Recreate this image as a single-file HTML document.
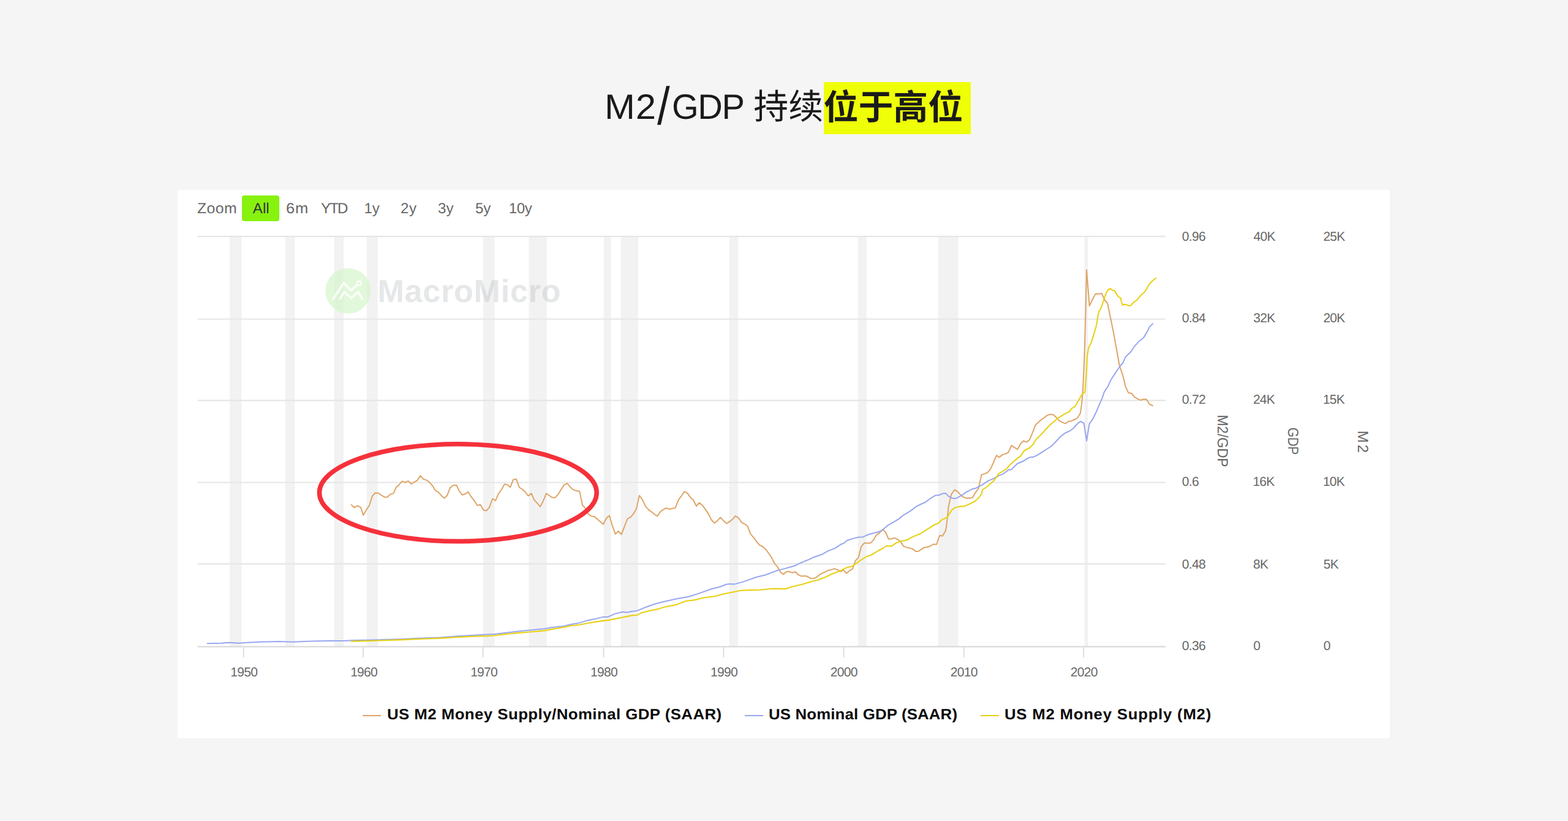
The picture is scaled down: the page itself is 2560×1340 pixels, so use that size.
<!DOCTYPE html>
<html lang="zh">
<head>
<meta charset="utf-8">
<title>M2/GDP</title>
<style>
html,body{margin:0;padding:0;}
body{width:2560px;height:1340px;overflow:hidden;background:#f5f5f5;position:relative;font-family:"Liberation Sans",sans-serif;text-rendering:geometricPrecision;}
.abs{position:absolute;white-space:nowrap;line-height:1;}
.hl{position:absolute;left:1345.3px;top:134.3px;width:240.2px;height:84.6px;background:#efff08;}
.tsvg{position:absolute;left:0;top:0;}
.tl{color:#1a1a1a;}
.panel{position:absolute;left:289.9px;top:310.4px;width:1979.4px;height:894.5px;background:#ffffff;}
.chart{position:absolute;left:0;top:0;}
.zl,.zb{color:#666666;}
.zb.on{color:#333333;}
.btnbg{position:absolute;left:395px;top:319px;width:60.8px;height:41.6px;background:#87f20e;border-radius:4px;}
.lg{font-weight:700;color:#0a0a0a;}
.ln{position:absolute;top:1167px;height:2px;width:30.4px;}
</style>
</head>
<body>
<div class="hl"></div>
<div class="abs tl" style="left:987.19px;top:147.23px;font-size:57.5px;letter-spacing:0.81px;transform:scaleX(1.04);transform-origin:0 0;">M2</div>
<div class="abs tl" style="left:1073.10px;top:131.09px;font-size:86.53px;transform:scaleX(0.858);transform-origin:0 0;">/</div>
<div class="abs tl" style="left:1096.78px;top:147.23px;font-size:57.5px;letter-spacing:-1.31px;transform:scaleX(0.975);transform-origin:0 0;">GDP</div>
<svg class="tsvg" width="2560" height="260" viewBox="0 0 2560 260"><text x="1230.31" y="194.40" font-family='"Liberation Sans","Noto Sans CJK SC",sans-serif' font-size="56.9" fill="#1a1a1a">持续</text><text x="1344.49" y="194.70" font-family='"Liberation Sans","Noto Sans CJK SC",sans-serif' font-size="56.9" font-weight="700" fill="#1a1a1a">位于高位</text></svg>
<div class="panel"></div>
<svg class="chart" width="2560" height="1340" viewBox="0 0 2560 1340">
<g fill="#f2f2f2">
<rect x="375.0" y="386" width="19.4" height="669"/>
<rect x="466.0" y="386" width="15.3" height="669"/>
<rect x="545.6" y="386" width="15.4" height="669"/>
<rect x="598.7" y="386" width="17.9" height="669"/>
<rect x="788.7" y="386" width="18.8" height="669"/>
<rect x="863.5" y="386" width="29.3" height="669"/>
<rect x="985.6" y="386" width="11.9" height="669"/>
<rect x="1013.5" y="386" width="28.4" height="669"/>
<rect x="1190.6" y="386" width="14.7" height="669"/>
<rect x="1400.6" y="386" width="14.0" height="669"/>
<rect x="1531.9" y="386" width="32.8" height="669"/>
<rect x="1770.6" y="386" width="5.7" height="669"/>
</g>
<g stroke="#e6e6e6" stroke-width="2.1" fill="none">
<path d="M322.6 385.85 H1903.0"/>
<path d="M322.6 520.75 H1903.0"/>
<path d="M322.6 653.64 H1903.0"/>
<path d="M322.6 787.55 H1903.0"/>
<path d="M322.6 920.36 H1903.0"/>
</g>
<g>
<circle cx="568.4" cy="474.85" r="37.1" fill="#d5f5cc" fill-opacity="0.7"/>
<path d="M543.4 488.5 L561.2 461.8 L573.4 474.1 L583.6 464.5 M554.8 488.8 L562.1 476.2 L573.4 486.6 L584.75 476.2 L592.1 489.1" fill="none" stroke="#ffffff" stroke-opacity="0.88" stroke-width="3.2" stroke-linejoin="miter" stroke-linecap="butt"/>
<circle cx="586.3" cy="462.15" r="3.4" fill="none" stroke="#ffffff" stroke-opacity="0.88" stroke-width="2.4"/>
<text x="616.42" y="493.4" font-family='"Liberation Sans",sans-serif' font-weight="700" font-size="52" letter-spacing="0.81" fill="#a8afb3" fill-opacity="0.3">MacroMicro</text>
</g>
<path d="M322.6 1055.55 H1903.0" stroke="#d6d6d6" stroke-width="2.1" fill="none"/>
<g stroke="#dedede" stroke-width="2" fill="none">
<path d="M397.60 1056.6 V1072.8"/>
<path d="M592.90 1056.6 V1072.8"/>
<path d="M788.60 1056.6 V1072.8"/>
<path d="M985.50 1056.6 V1072.8"/>
<path d="M1181.25 1056.6 V1072.8"/>
<path d="M1377.50 1056.6 V1072.8"/>
<path d="M1573.70 1056.6 V1072.8"/>
<path d="M1769.10 1056.6 V1072.8"/>
</g>
<g fill="none" stroke-linejoin="round" stroke-linecap="round" stroke-width="2">
<path stroke="#dea466" d="M573.7 823.9 L578.5 828.4 L583.3 825.5 L588.7 827.8 L593.2 840.9 L598.2 831.9 L603.0 825.0 L607.8 809.9 L612.5 804.5 L617.6 804.7 L623.3 808.7 L628.1 811.4 L632.2 811.4 L637.4 806.6 L642.4 805.4 L646.9 795.2 L651.9 790.7 L656.7 785.4 L661.5 787.5 L666.3 785.1 L671.6 789.9 L676.4 786.8 L681.2 784.2 L686.2 776.4 L691.3 782.0 L696.4 783.6 L701.5 787.5 L706.3 793.1 L711.0 800.9 L715.8 803.3 L720.6 808.7 L725.4 813.1 L730.1 808.7 L734.9 796.1 L739.7 792.2 L745.1 791.6 L749.9 801.5 L754.9 807.8 L759.6 806.3 L764.4 802.7 L769.6 811.4 L774.3 817.0 L779.3 825.0 L784.2 823.8 L789.3 832.5 L794.0 833.5 L798.8 828.4 L804.2 814.0 L809.0 817.0 L813.7 806.3 L819.1 798.5 L823.9 790.1 L828.4 791.3 L833.2 795.2 L838.0 782.7 L843.0 782.0 L847.8 795.5 L852.5 798.5 L857.7 803.0 L862.4 809.5 L867.5 805.4 L872.2 815.8 L877.0 821.2 L882.1 826.9 L886.9 817.6 L891.9 805.4 L896.7 808.7 L901.5 812.0 L906.5 812.2 L911.6 806.3 L916.4 798.5 L921.2 791.1 L926.3 789.0 L931.1 795.2 L936.1 799.5 L941.1 801.1 L946.3 801.9 L951.0 824.8 L955.8 829.6 L960.6 839.1 L965.4 842.4 L970.1 842.9 L974.9 846.9 L980.1 851.6 L985.1 855.8 L989.9 845.7 L994.9 841.5 L999.6 857.6 L1004.8 871.7 L1009.6 866.9 L1014.6 872.3 L1019.5 859.4 L1024.5 846.9 L1029.3 844.2 L1034.0 839.1 L1038.8 830.7 L1043.9 808.7 L1049.0 815.8 L1054.0 826.6 L1058.9 831.9 L1063.6 835.2 L1068.4 839.5 L1073.2 842.3 L1078.2 835.2 L1083.0 831.6 L1087.8 829.2 L1093.1 831.1 L1097.9 830.1 L1102.7 828.7 L1107.8 815.6 L1112.6 809.3 L1117.4 802.4 L1122.4 805.1 L1127.2 811.6 L1131.9 816.2 L1137.0 826.0 L1141.7 820.6 L1146.9 824.8 L1151.9 831.9 L1156.8 839.1 L1161.6 848.7 L1166.6 853.8 L1171.3 849.9 L1176.1 844.5 L1181.1 849.9 L1186.3 854.3 L1191.0 851.6 L1195.8 847.8 L1200.8 842.1 L1206.0 845.7 L1210.7 852.6 L1215.5 855.0 L1220.5 858.8 L1225.3 871.3 L1230.4 877.3 L1235.2 883.9 L1240.2 889.9 L1245.1 892.0 L1249.9 896.4 L1254.9 903.0 L1259.7 909.9 L1264.5 919.7 L1269.3 925.1 L1274.0 933.4 L1278.8 937.6 L1283.8 933.2 L1288.6 932.8 L1293.7 934.9 L1298.5 933.2 L1303.3 938.2 L1308.1 940.4 L1313.2 940.0 L1318.0 940.8 L1323.0 943.9 L1327.8 944.2 L1332.8 942.4 L1337.7 938.2 L1342.4 935.6 L1347.5 933.4 L1352.2 930.8 L1357.4 929.9 L1362.4 928.1 L1367.2 929.9 L1372.2 932.8 L1377.0 930.4 L1382.1 935.8 L1387.1 931.3 L1391.9 928.7 L1396.4 915.5 L1401.6 909.8 L1406.3 891.6 L1411.3 886.3 L1416.4 886.6 L1421.5 886.3 L1426.3 880.9 L1431.0 873.1 L1436.1 869.6 L1441.2 863.9 L1446.0 869.0 L1450.7 879.7 L1455.8 879.5 L1460.5 877.9 L1465.3 880.3 L1470.4 883.9 L1475.2 891.6 L1480.2 893.4 L1485.1 894.6 L1489.9 895.8 L1494.9 900.0 L1499.7 899.8 L1504.5 896.4 L1509.3 893.4 L1514.3 893.1 L1519.0 891.0 L1523.8 888.3 L1529.0 888.7 L1534.1 874.0 L1538.9 874.7 L1543.9 866.0 L1545.7 854.6 L1548.7 826.0 L1553.4 806.3 L1558.4 799.5 L1563.2 802.1 L1568.0 807.5 L1572.9 811.4 L1577.9 813.1 L1582.7 813.1 L1587.8 812.2 L1592.6 803.9 L1597.6 797.1 L1602.4 774.9 L1607.2 773.4 L1612.2 771.3 L1617.0 765.7 L1621.7 755.5 L1626.9 743.3 L1631.6 746.3 L1636.8 742.1 L1641.6 740.9 L1646.3 738.3 L1651.3 727.2 L1656.1 730.1 L1661.1 733.5 L1666.0 724.8 L1671.0 719.4 L1676.1 721.8 L1681.0 717.6 L1685.7 706.3 L1690.5 693.7 L1695.5 689.0 L1700.5 684.8 L1705.3 681.2 L1710.1 677.6 L1715.2 676.2 L1720.0 677.0 L1725.0 681.8 L1729.9 687.2 L1734.7 689.3 L1739.5 691.3 L1744.5 687.8 L1749.3 687.2 L1754.0 685.0 L1759.0 682.4 L1763.8 674.6 L1766.0 659.7 L1767.8 640.6 L1770.4 582.7 L1772.2 520.0 L1774.0 440.4 L1778.7 499.3 L1783.9 488.1 L1788.8 479.6 L1793.7 479.8 L1798.7 478.9 L1803.1 489.0 L1808.2 495.2 L1813.0 518.5 L1817.9 542.4 L1822.8 569.3 L1827.8 597.2 L1833.0 612.1 L1837.5 630.7 L1842.3 641.2 L1847.5 641.9 L1852.0 647.9 L1857.2 650.9 L1862.1 653.1 L1866.9 651.5 L1871.8 651.8 L1876.6 659.5 L1881.9 662.1"/>
<path stroke="#97a6f0" d="M338.6 1050.3 L361.2 1049.8 L375.3 1048.8 L389.4 1049.7 L405.0 1048.8 L423.8 1047.7 L455.0 1046.9 L476.9 1047.7 L494.1 1046.9 L533.1 1046.1 L561.2 1046.1 L573.8 1045.3 L611.2 1044.5 L658.1 1043.0 L689.4 1041.4 L720.0 1040.4 L745.0 1038.5 L770.0 1036.9 L795.0 1035.6 L807.5 1035.0 L826.2 1032.8 L845.0 1030.6 L870.0 1028.1 L888.8 1026.2 L901.2 1024.0 L920.0 1021.9 L932.5 1019.0 L945.0 1016.9 L957.5 1013.1 L970.0 1010.6 L985.0 1006.9 L992.5 1006.9 L1003.8 1001.9 L1016.2 998.8 L1023.8 999.4 L1032.5 997.8 L1040.0 996.9 L1051.1 992.3 L1066.9 986.5 L1082.7 982.3 L1103.8 977.6 L1124.9 973.7 L1140.7 968.6 L1161.8 961.2 L1175.5 957.8 L1186.1 953.8 L1191.4 953.0 L1198.8 953.6 L1214.6 949.1 L1235.7 941.7 L1249.4 938.5 L1270.5 930.6 L1280.0 928.4 L1289.6 925.7 L1297.9 923.3 L1303.9 920.1 L1318.2 914.3 L1327.8 909.8 L1342.1 904.8 L1351.6 899.4 L1363.6 894.6 L1373.1 888.3 L1377.9 886.6 L1382.7 882.3 L1392.2 879.1 L1401.8 876.7 L1409.0 876.4 L1417.3 872.5 L1435.2 867.8 L1441.2 864.8 L1449.6 857.3 L1459.1 852.2 L1467.5 846.9 L1475.8 840.3 L1483.0 836.1 L1490.1 831.3 L1496.1 826.6 L1503.3 823.0 L1510.4 820.0 L1520.0 812.8 L1527.2 808.7 L1534.3 807.8 L1539.1 805.4 L1543.9 805.1 L1548.7 809.9 L1553.4 812.8 L1558.2 813.8 L1563.0 812.6 L1570.1 808.3 L1578.5 802.7 L1588.1 797.9 L1592.8 797.1 L1597.6 794.3 L1603.6 791.3 L1613.1 784.8 L1622.7 780.8 L1627.5 778.2 L1632.2 775.6 L1637.0 774.0 L1646.6 766.9 L1651.3 766.3 L1660.9 756.7 L1670.4 752.8 L1677.6 748.1 L1682.4 746.3 L1686.0 746.3 L1691.9 743.9 L1701.5 737.9 L1709.9 732.5 L1717.0 727.8 L1721.8 723.0 L1731.3 712.8 L1739.7 706.3 L1745.7 703.9 L1751.6 699.7 L1760.0 690.7 L1764.5 687.8 L1769.6 690.7 L1774.1 719.4 L1778.5 691.9 L1783.9 684.2 L1789.9 672.2 L1794.6 660.9 L1799.4 650.1 L1803.0 639.4 L1808.4 631.5 L1813.6 620.3 L1820.3 609.9 L1827.8 598.7 L1833.1 592.5 L1837.6 582.7 L1846.6 573.7 L1851.9 565.7 L1859.1 557.6 L1867.2 550.9 L1872.5 542.4 L1876.6 533.9 L1881.9 528.5"/>
<path stroke="#e8d114" stroke-width="2.1" d="M573.8 1046.6 L595.6 1046.2 L626.9 1045.3 L658.1 1044.1 L689.4 1042.7 L720.0 1041.6 L745.0 1040.0 L770.0 1038.8 L795.0 1038.1 L807.5 1037.2 L826.2 1035.0 L845.0 1033.1 L870.0 1031.0 L888.8 1029.4 L901.2 1026.9 L920.0 1024.0 L932.5 1021.2 L945.0 1020.0 L957.5 1017.5 L976.2 1014.4 L995.0 1011.9 L1007.5 1009.4 L1020.0 1006.9 L1032.5 1004.4 L1040.0 1004.1 L1046.9 1000.4 L1061.6 996.5 L1074.3 994.1 L1084.8 990.7 L1103.8 987.1 L1119.6 981.0 L1135.5 979.1 L1148.1 975.8 L1167.1 973.3 L1177.7 970.2 L1193.5 967.0 L1209.3 963.8 L1225.1 963.1 L1240.9 962.8 L1262.0 960.7 L1272.6 960.9 L1280.0 961.1 L1283.6 960.9 L1290.7 958.3 L1309.9 953.7 L1321.8 950.1 L1334.9 946.8 L1348.1 941.8 L1357.6 937.0 L1370.7 932.2 L1382.7 926.3 L1392.2 923.9 L1401.8 916.7 L1409.0 911.9 L1414.9 908.4 L1422.1 906.0 L1434.0 898.8 L1440.0 895.8 L1447.2 891.0 L1455.5 891.4 L1462.7 886.3 L1471.0 883.3 L1480.6 881.5 L1490.1 876.1 L1502.1 871.3 L1511.6 865.4 L1524.8 857.0 L1531.9 854.0 L1537.9 848.1 L1546.3 844.5 L1549.9 839.1 L1553.4 832.9 L1559.4 828.4 L1569.0 826.2 L1573.7 826.6 L1582.1 823.0 L1591.6 818.2 L1597.6 812.8 L1602.4 806.3 L1604.2 799.1 L1608.4 796.7 L1615.5 790.7 L1622.7 784.2 L1627.5 778.2 L1629.9 773.4 L1637.0 769.3 L1644.2 764.5 L1646.6 760.9 L1653.7 754.3 L1660.9 748.4 L1666.9 743.6 L1672.2 735.5 L1681.2 730.7 L1687.2 724.8 L1691.3 717.6 L1701.5 707.5 L1712.2 695.5 L1717.0 691.3 L1726.6 683.0 L1734.9 677.6 L1739.7 674.6 L1746.3 671.6 L1749.3 666.9 L1755.2 663.3 L1760.0 654.9 L1767.2 642.4 L1771.3 640.0 L1773.6 609.6 L1774.9 582.7 L1777.2 567.5 L1781.6 559.4 L1786.6 543.3 L1790.1 530.7 L1792.4 516.7 L1794.2 508.2 L1797.3 503.3 L1801.8 490.7 L1806.3 477.3 L1809.4 472.8 L1813.0 471.0 L1816.1 473.7 L1819.7 474.6 L1823.7 480.9 L1826.4 484.9 L1829.6 486.3 L1830.9 492.5 L1832.7 497.9 L1835.8 496.8 L1839.4 497.5 L1843.0 499.0 L1846.1 498.8 L1849.7 494.3 L1856.4 489.4 L1859.1 486.3 L1863.6 480.9 L1868.1 477.3 L1870.7 473.7 L1874.3 467.5 L1876.1 464.3 L1881.5 458.5 L1886.9 454.0"/>
</g>
<ellipse cx="747.8" cy="804.15" rx="226.4" ry="79.4" fill="none" stroke="#f5313b" stroke-width="7.5"/>
<g font-family='"Liberation Sans",sans-serif' font-size="21" fill="#666666" letter-spacing="-0.7">
<g text-anchor="middle">
<text x="398.2" y="1103.7">1950</text>
<text x="594.1" y="1103.7">1960</text>
<text x="790.1" y="1103.7">1970</text>
<text x="986.0" y="1103.7">1980</text>
<text x="1181.9" y="1103.7">1990</text>
<text x="1377.8" y="1103.7">2000</text>
<text x="1573.8" y="1103.7">2010</text>
<text x="1769.7" y="1103.7">2020</text>
</g>
<text x="1929.8" y="393.1">0.96</text>
<text x="1929.8" y="526.0">0.84</text>
<text x="1929.8" y="659.4">0.72</text>
<text x="1929.8" y="792.5">0.6</text>
<text x="1929.8" y="927.5">0.48</text>
<text x="1929.8" y="1061.2">0.36</text>
<text x="2046.5" y="393.1">40K</text>
<text x="2046.2" y="526.0">32K</text>
<text x="2045.9" y="659.4">24K</text>
<text x="2045.4" y="792.5">16K</text>
<text x="2046.1" y="927.5">8K</text>
<text x="2046.2" y="1061.2">0</text>
<text x="2160.4" y="393.1">25K</text>
<text x="2160.4" y="526.0">20K</text>
<text x="2159.9" y="659.4">15K</text>
<text x="2159.9" y="792.5">10K</text>
<text x="2160.7" y="927.5">5K</text>
<text x="2160.7" y="1061.2">0</text>
</g>
<g font-family='"Liberation Sans",sans-serif' font-size="24" fill="#666666">
<text transform="translate(1988.0 676.97) rotate(90) scale(0.9281 1)" x="0" y="0" letter-spacing="0.00">M2/GDP</text>
<text transform="translate(2103.0 697.77) rotate(90) scale(0.8560 1)" x="0" y="0" letter-spacing="0.00">GDP</text>
<text transform="translate(2216.6 702.83) rotate(90) scale(1.0000 1)" x="0" y="0" letter-spacing="2.94">M2</text>
</g>
</svg>
<div class="abs zl" style="left:322.02px;top:329.38px;font-size:24px;letter-spacing:0.46px;transform:scaleX(1.03);transform-origin:0 0;">Zoom</div>
<div class="btnbg"></div>
<div class="abs zb on" style="left:412.85px;top:329.38px;font-size:24px;letter-spacing:0.04px;">All</div>
<div class="abs zb" style="left:467.46px;top:329.38px;font-size:24px;letter-spacing:0.83px;transform:scaleX(1.06);transform-origin:0 0;">6m</div>
<div class="abs zb" style="left:523.97px;top:329.38px;font-size:24px;letter-spacing:-1.81px;">YTD</div>
<div class="abs zb" style="left:594.47px;top:329.38px;font-size:24px;letter-spacing:-0.07px;">1y</div>
<div class="abs zb" style="left:654.09px;top:329.38px;font-size:24px;letter-spacing:0.51px;">2y</div>
<div class="abs zb" style="left:714.89px;top:329.38px;font-size:24px;letter-spacing:0.21px;">3y</div>
<div class="abs zb" style="left:775.94px;top:329.38px;font-size:24px;letter-spacing:-0.04px;">5y</div>
<div class="abs zb" style="left:830.77px;top:329.38px;font-size:24px;letter-spacing:-0.41px;">10y</div>
<div class="ln" style="left:592.1px;background:#dea466"></div>
<div class="abs lg" style="left:631.75px;top:1155.06px;font-size:24.5px;letter-spacing:0.47px;transform:scaleX(1.05);transform-origin:0 0;">US M2 Money Supply/Nominal GDP (SAAR)</div>
<div class="ln" style="left:1215.8px;background:#97a6f0"></div>
<div class="abs lg" style="left:1254.70px;top:1155.06px;font-size:24.5px;letter-spacing:0.19px;transform:scaleX(1.05);transform-origin:0 0;">US Nominal GDP (SAAR)</div>
<div class="ln" style="left:1601.0px;background:#e8d114"></div>
<div class="abs lg" style="left:1639.70px;top:1155.06px;font-size:24.5px;letter-spacing:0.74px;transform:scaleX(1.05);transform-origin:0 0;">US M2 Money Supply (M2)</div>
</body>
</html>
